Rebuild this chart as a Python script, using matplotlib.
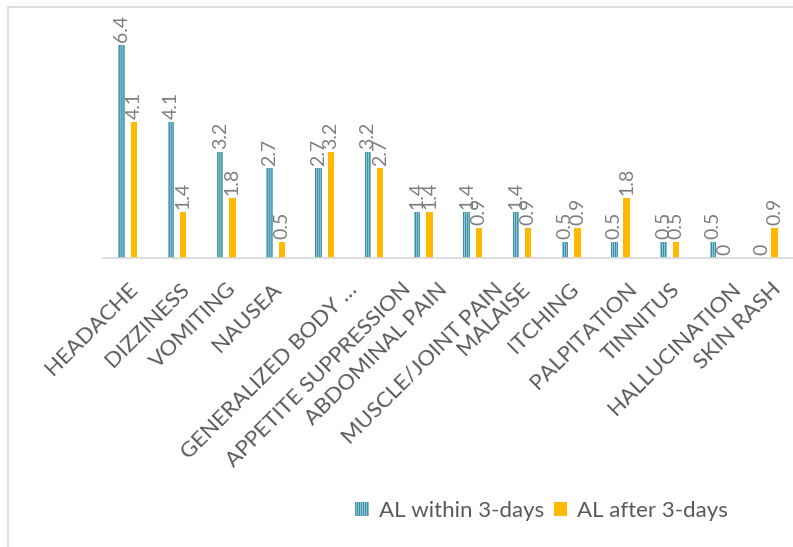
import numpy as np
import matplotlib.pyplot as plt
from matplotlib.patches import Patch, Rectangle

plt.rcParams['font.family'] = ['Lato', 'DejaVu Sans']
plt.rcParams['hatch.linewidth'] = 0.9

categories = ["HEADACHE", "DIZZINESS", "VOMITING", "NAUSEA", "GENERALIZED BODY …",
              "APPETITE SUPPRESSION", "ABDOMINAL PAIN", "MUSCLE/JOINT PAIN", "MALAISE",
              "ITCHING", "PALPITATION", "TINNITUS", "HALLUCINATION", "SKIN RASH"]
within_3d = [6.4, 4.1, 3.2, 2.7, 2.7, 3.2, 1.4, 1.4, 1.4, 0.5, 0.5, 0.5, 0.5, 0]
after_3d = [4.1, 1.4, 1.8, 0.5, 3.2, 2.7, 1.4, 0.9, 0.9, 0.9, 1.8, 0.5, 0, 0.9]

blue_fill = '#a9d6e2'
blue_line = '#3b8ea5'
orange = '#ffb900'
grey_txt = '#7f7f7f'

fig = plt.figure(figsize=(7.93, 5.47), dpi=100)
ax = fig.add_axes([0.130, 0.528, 0.870, 0.426])

x = np.arange(len(categories))
w = 0.13
off = 0.125
ax.bar(x - off, within_3d, w, color=blue_fill, edgecolor=blue_line,
       linewidth=0, hatch='||||||||')
ax.bar(x + off, after_3d, w, color=orange, linewidth=0)

for xs, vals in ((x - off, within_3d), (x + off, after_3d)):
    for xi, v in zip(xs, vals):
        ax.annotate(f"{v:g}", (xi, v), xytext=(0, 2), textcoords='offset points',
                    rotation=90, ha='center', va='bottom', fontsize=14, color=grey_txt)

ax.set_xlim(-0.5, len(categories) - 0.5)
ax.set_ylim(0, 7)
ax.set_yticks([])
for s in ['top', 'right', 'left']:
    ax.spines[s].set_visible(False)
ax.spines['bottom'].set_color('#d9d9d9')
ax.spines['bottom'].set_linewidth(1.2)

# longer rotated labels sit a bit further right (like the Excel layout)
shift = np.array([0.14 + 0.046 * (len(c) - 8) for c in categories])
ax.set_xticks(x + shift)
ax.set_xticklabels(categories, rotation=45, ha='right', va='center',
                   rotation_mode='anchor', fontsize=16, color='#595959')
ax.tick_params(axis='x', length=0, pad=20)

handles = [Patch(facecolor=blue_fill, edgecolor=blue_line, hatch='||||||||', linewidth=0),
           Patch(facecolor=orange, linewidth=0)]
fig.legend(handles, ["AL within 3-days", "AL after 3-days"], loc='center',
           bbox_to_anchor=(0.683, 0.066), ncol=2, frameon=False, fontsize=16,
           labelcolor='#595959', handlelength=0.6, handleheight=0.6,
           handletextpad=0.45, columnspacing=0.45)

fig.patches.append(Rectangle((0.0105, -0.1), 1.1, 1.087, transform=fig.transFigure,
                             fill=False, edgecolor='#d9d9d9', linewidth=1.2))

fig.savefig('out.png')
